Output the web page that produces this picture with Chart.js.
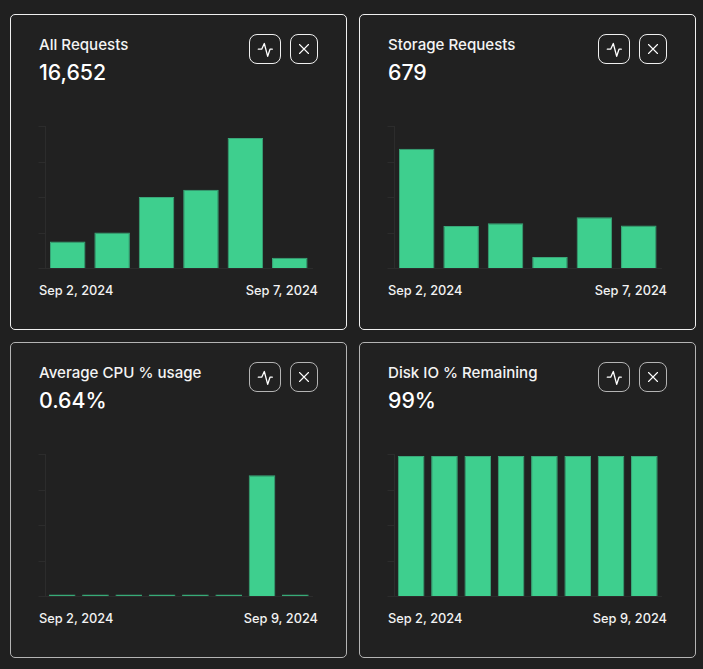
<!DOCTYPE html>
<html>
<head>
<meta charset="utf-8">
<script src="https://cdn.jsdelivr.net/npm/chart.js@4"></script>
<style>
html,body{margin:0;padding:0;background:#202020;width:703px;height:669px;overflow:hidden;font-family:Inter,sans-serif;color:#fff}
.card{position:absolute;box-sizing:border-box;width:337px;height:316px;border:1px solid #efefef;border-radius:5px;background:#212121}
.card.low{border-color:#b4b4b4;height:316px}
.t{position:absolute;white-space:nowrap}
.title{left:28px;top:21px;font-size:15.1px;line-height:18px;font-weight:500;color:#f4f4f4}
.value{left:28px;top:44px;font-size:21.3px;line-height:26px;font-weight:500;color:#fff}
.tick{top:268px;font-size:12.8px;line-height:16px;font-weight:500;color:#f2f2f2}
.tick.a{left:28px}
.tick.b{right:28px}
.btn{position:absolute;top:19px;box-sizing:border-box;height:30px;border:1px solid #efefef;border-radius:8px}
.low .btn{border-color:#b4b4b4}
.btn.p{left:238px;width:32px}
.btn.x{left:279px;width:28px}
.btn svg{position:absolute;left:-1px;top:-1px;overflow:visible}
canvas{position:absolute;display:block}
</style>
</head>
<body>
<script>
const titles = ["All Requests", "Storage Requests", "Average CPU % usage", "Disk IO % Remaining"];
const totals = ["16,652", "679", "0.64%", "99%"];
const firstLabels = ["Sep 2, 2024", "Sep 2, 2024", "Sep 2, 2024", "Sep 2, 2024"];
const lastLabels = ["Sep 7, 2024", "Sep 7, 2024", "Sep 9, 2024", "Sep 9, 2024"];
const days6 = ["Sep 2", "Sep 3", "Sep 4", "Sep 5", "Sep 6", "Sep 7"];
const days8 = ["Sep 2", "Sep 3", "Sep 4", "Sep 5", "Sep 6", "Sep 7", "Sep 8", "Sep 9"];
const allRequests = [1263, 1689, 3358, 3703, 6133, 506];
const storageRequests = [260, 92, 98, 25, 111, 93];
const cpuUsage = [0.077, 0.077, 0.077, 0.077, 0.077, 0.077, 4.58, 0.077];
const diskRemaining = [99, 99, 99, 99, 99, 99, 99, 99];
const yMax = [6668, 308, 5.36, 100];
const yStep = [1667, 77, 1.34, 25];

const seriesList = [allRequests, storageRequests, cpuUsage, diskRemaining];
const dayList = [days6, days6, days8, days8];
const cardPos = [[10, 14], [359, 14], [10, 342], [359, 342]];

seriesList.forEach((values, i) => {
  const [cx, cy] = cardPos[i];
  const card = document.createElement('div');
  card.className = 'card' + (i > 1 ? ' low' : '');
  card.style.left = cx + 'px';
  card.style.top = cy + 'px';
  card.innerHTML =
    '<div class="t title">' + titles[i] + '</div>' +
    '<div class="t value">' + totals[i] + '</div>' +
    '<div class="t tick a">' + firstLabels[i] + '</div>' +
    '<div class="t tick b">' + lastLabels[i] + '</div>' +
    '<div class="btn p"><svg width="32" height="30" fill="none" stroke="currentColor" stroke-width="1.3" stroke-linecap="round" stroke-linejoin="round"><path d="M9.3 15.2H12.7L15.3 9.5L18.7 22.3L21 15.2H23.3"/></svg></div>' +
    '<div class="btn x"><svg width="28" height="30" fill="none" stroke="currentColor" stroke-width="1.1" stroke-linecap="round"><path d="M9.5 10.5L18.5 19.5M18.5 10.5L9.5 19.5"/></svg></div>';
  document.body.appendChild(card);

  const canvas = document.createElement('canvas');
  canvas.width = 280;
  canvas.height = 157;
  canvas.style.left = (cx + 26) + 'px';
  canvas.style.top = (cy + 106) + 'px';
  document.body.appendChild(canvas);
  new Chart(canvas, {
    type: 'bar',
    data: {
      labels: dayList[i],
      datasets: [{
        data: values,
        backgroundColor: '#3ecf8e',
        borderColor: '#3aa87a',
        borderWidth: 1,
        categoryPercentage: 1,
        barPercentage: 0.8
      }]
    },
    options: {
      responsive: false,
      animation: false,
      events: [],
      layout: { padding: { left: 2.5, right: 4, top: 6.5, bottom: 0.5 } },
      plugins: { legend: { display: false }, tooltip: { enabled: false } },
      scales: {
        x: {
          grid: { display: false },
          ticks: { display: false },
          border: { color: '#2c2c2c', width: 1 }
        },
        y: {
          min: 0,
          max: yMax[i],
          ticks: { display: false, stepSize: yStep[i] },
          grid: { drawOnChartArea: false, drawTicks: true, tickLength: 7, color: '#2c2c2c' },
          border: { color: '#2c2c2c', width: 1 }
        }
      }
    }
  });
});
</script>
</body>
</html>
